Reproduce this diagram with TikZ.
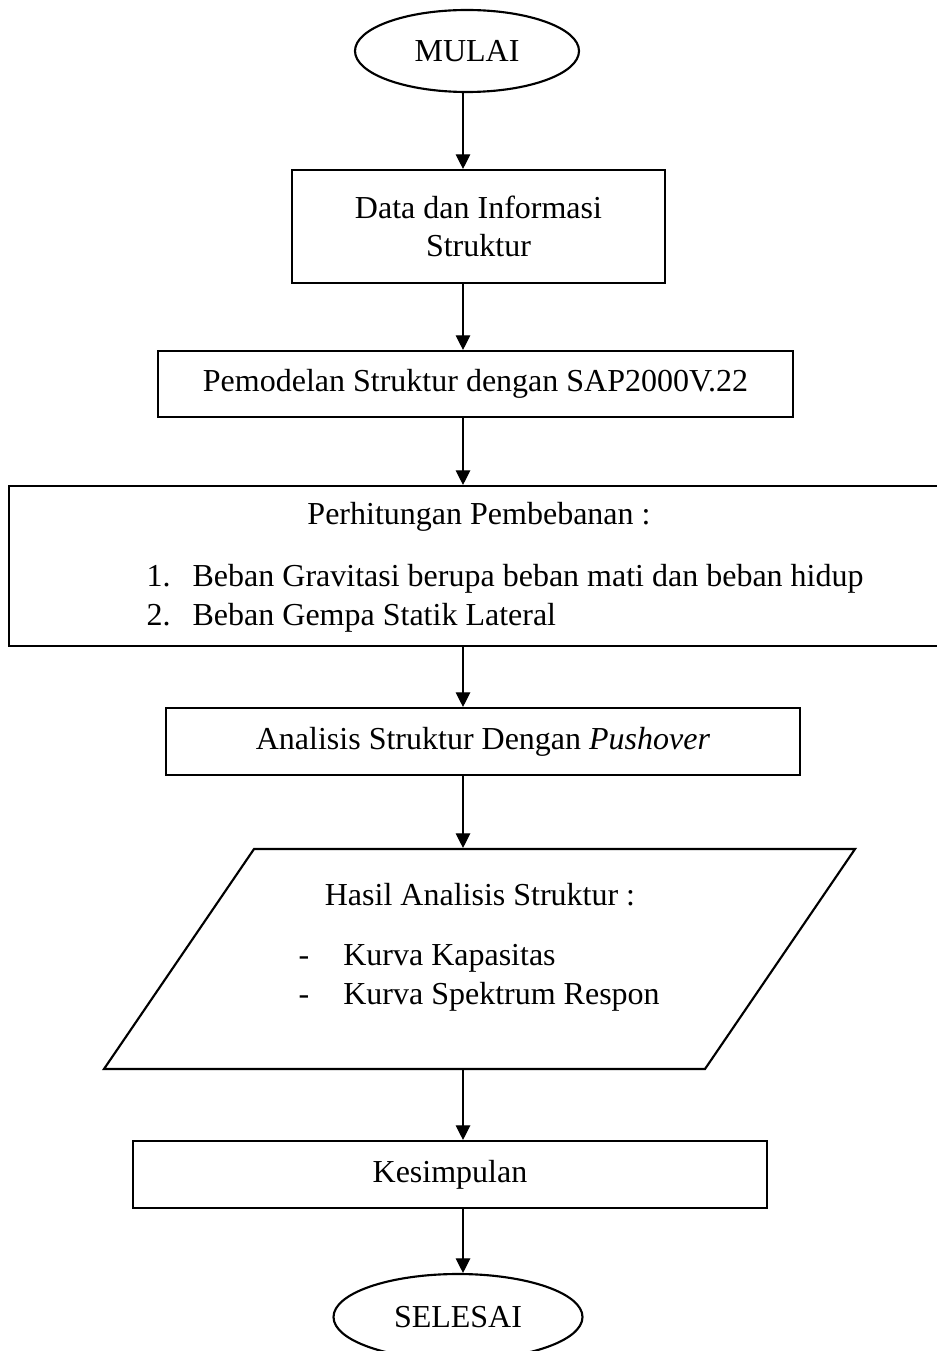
\documentclass[tikz,border=0pt]{standalone}
\usepackage{fontspec}
\setmainfont{Liberation Serif}
\usepackage{tikz}
\usetikzlibrary{arrows.meta,shapes.geometric}

\def\pxu{0.375pt}

\begin{document}
\begin{tikzpicture}[x=0.375pt, y=-0.375pt,
  pbox/.style={draw, line width=0.8pt, align=center, inner sep=0pt,
               font=\fontsize{12}{14}\selectfont},
  term/.style={draw, ellipse, line width=0.8pt, inner sep=0pt,
               font=\fontsize{12}{14}\selectfont},
  txt/.style={align=left, inner sep=0pt, font=\fontsize{12}{14.5}\selectfont},
  arr/.style={-{Triangle[length=5.5pt,width=5.5pt]}, line width=0.45pt},
]
\useasboundingbox (0,0) rectangle (937,1351);

%% ---- arrow column
\coordinate (col) at (463,0);

%% ---- start / data / model
\node[term, minimum width=224*\pxu, minimum height=82*\pxu] (mulai) at (467,51) {MULAI};
\node[pbox, minimum width=373*\pxu, minimum height=113*\pxu] (data) at (478.5,226.5)
  {Data dan Informasi\\Struktur};
\node[pbox, minimum width=635*\pxu, minimum height=66*\pxu] (model) at (475.5,384)
  {Pemodelan Struktur dengan SAP2000V.22};

%% ---- loading box (runs past the right edge)
\node[pbox, minimum width=936*\pxu, minimum height=160*\pxu] (beban) at (477,566) {};
\node[txt] (bebanjudul) at (479,517) {Perhitungan Pembebanan :};
\node[txt, anchor=west] (bebanlist) at (146,598)
  {1.\hspace{8.3pt}Beban Gravitasi berupa beban mati dan beban hidup\\
   2.\hspace{8.3pt}Beban Gempa Statik Lateral};

%% ---- pushover
\node[pbox, minimum width=634*\pxu, minimum height=67*\pxu] (anl) at (483,741.5)
  {Analisis Struktur Dengan \textit{Pushover}};

%% ---- output (parallelogram, slanted box)
\begin{scope}[shift={(479.5,959)}, xslant=0.682]
  \node[draw, line width=0.8pt, inner sep=0pt, transform shape,
        minimum width=601*\pxu, minimum height=220*\pxu] (hasil) at (0,0) {};
\end{scope}
\node[txt] (hasiljudul) at (480,895) {Hasil Analisis Struktur :};
\node[txt, anchor=west] (hasillist) at (298,978)
  {-\hspace{12.8pt}Kurva Kapasitas\\
   -\hspace{12.8pt}Kurva Spektrum Respon};

%% ---- conclusion / end
\node[pbox, minimum width=634*\pxu, minimum height=67*\pxu] (simpul) at (450,1174.5)
  {Kesimpulan};
\node[term, minimum width=249*\pxu, minimum height=86*\pxu] (selesai) at (458,1317) {SELESAI};

%% ---- connectors
\draw[arr] (mulai.south -| col) -- (data.north -| col);
\draw[arr] (data.south -| col) -- (model.north -| col);
\draw[arr] (model.south -| col) -- (beban.north -| col);
\draw[arr] (beban.south -| col) -- (anl.north -| col);
\draw[arr] (anl.south -| col) -- (hasil.north -| col);
\draw[arr] (hasil.south -| col) -- (simpul.north -| col);
\draw[arr] (simpul.south -| col) -- (selesai.north -| col);

\end{tikzpicture}
\end{document}
